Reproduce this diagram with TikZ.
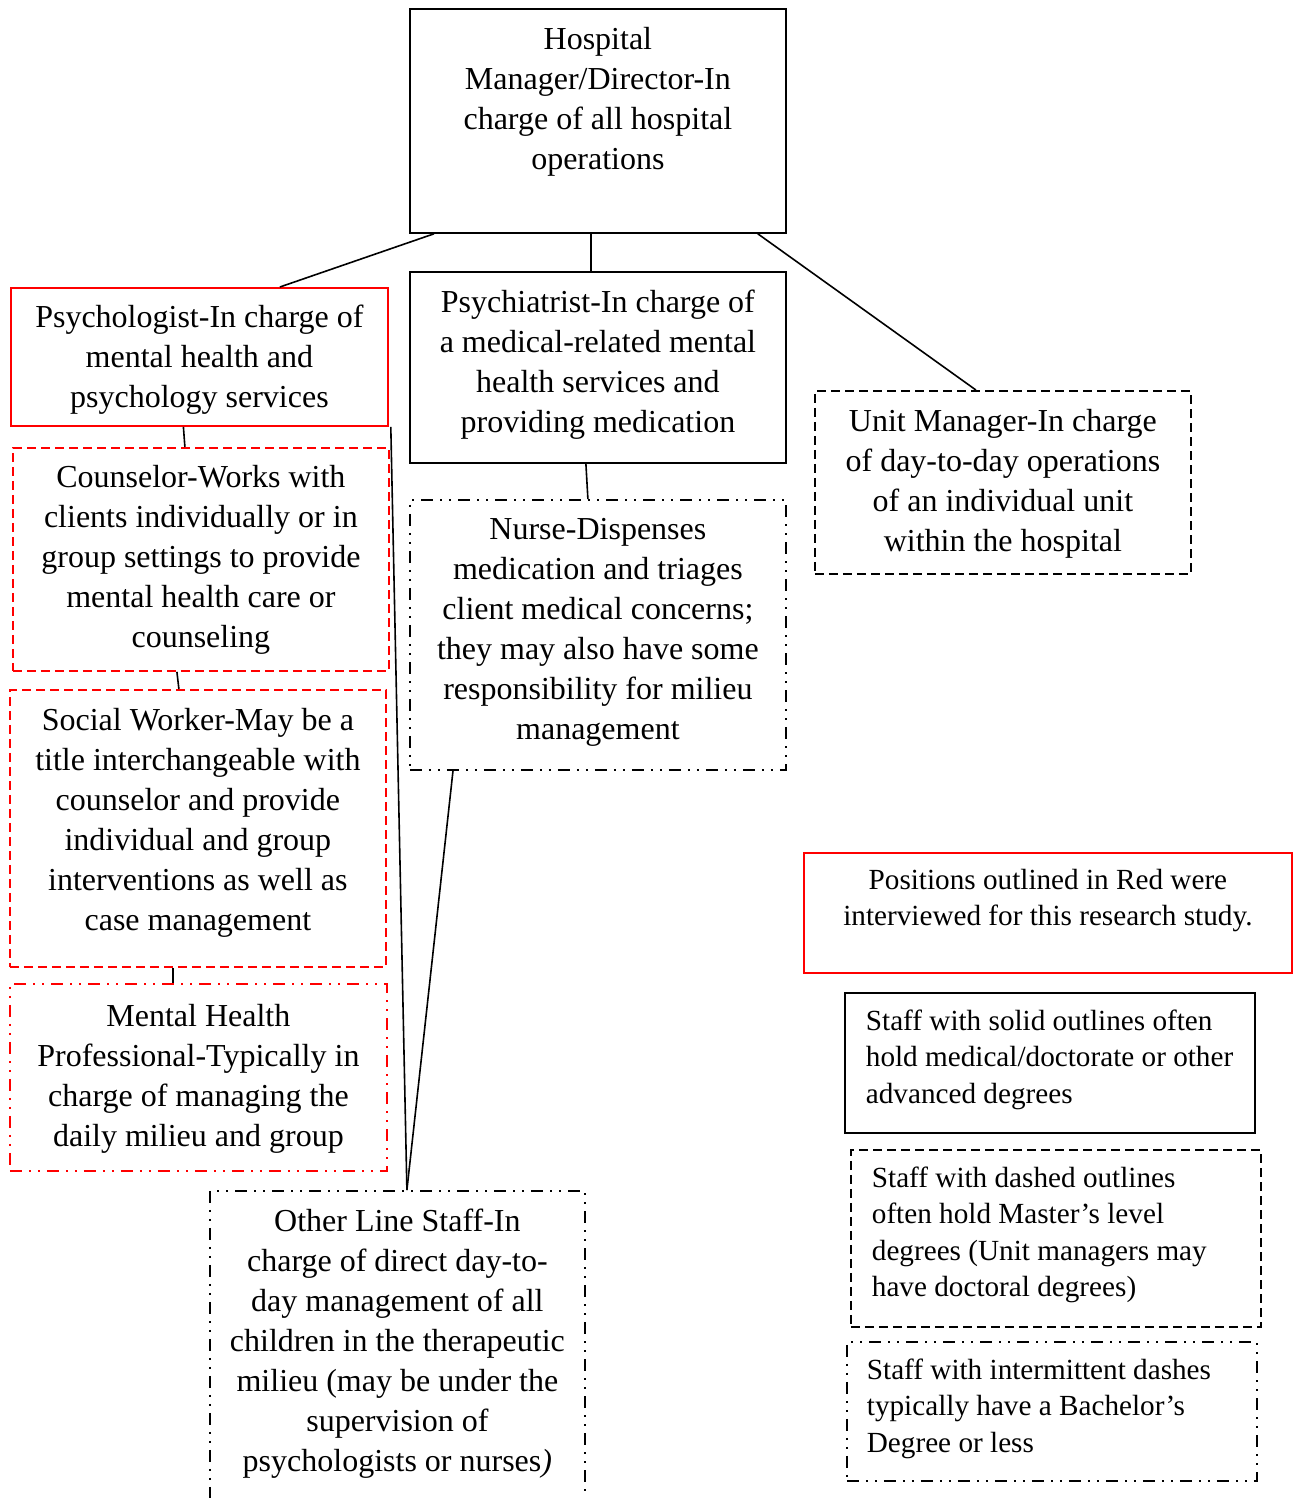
\documentclass[tikz,border=0pt]{standalone}
\usepackage{fontspec}
\setmainfont{Liberation Serif}
\usepackage{tikz}
\usetikzlibrary{positioning,calc}
\definecolor{myred}{RGB}{255,0,0}
\tikzset{
    dashdotdot/.style={dash pattern=on 6pt off 3.5pt on 1pt off 3.5pt on 1pt off 3.5pt},
    shortdash/.style={dash pattern=on 4.5pt off 2.5pt}
}

\begin{document}
\begin{tikzpicture}[
      x=1pt, y=-1pt,
      line width=0.9pt,
  frame/.style 2 args={
    draw,
    rectangle,
    anchor=north west,
    inner sep=0pt,
    minimum width=#1,
    minimum height=#2
    },
  txt/.style={
    align=center,
    inner sep=0pt,
    font=\fontsize{16}{20}\selectfont
    },
  legtxt/.style={
    inner sep=0pt,
    font=\fontsize{14.6}{18.25}\selectfont
    },
  link/.style={line width=0.8pt}
      ]
\useasboundingbox (0,0) rectangle (649,749);

% boxes of the chart
\node[frame={188pt}{112pt}] (hosp) at (204.5,4) {};
\node[frame={188.5pt}{69pt}, myred] (psych) at (5,143.5) {};
\node[frame={188pt}{95.5pt}] (psychiatr) at (204.5,135.5) {};
\node[frame={188pt}{91.5pt}, shortdash] (unit) at (407,195) {};
\node[frame={188pt}{111.5pt}, myred, shortdash] (couns) at (6,223.5) {};
\node[frame={188pt}{135pt}, dashdotdot] (nurse) at (204.5,249.5) {};
\node[frame={188pt}{138.5pt}, myred, shortdash] (social) at (4.5,344.5) {};
\node[frame={188.5pt}{93.5pt}, myred, dashdotdot] (mhp) at (4.5,491.5) {};
\node[frame={187.5pt}{180pt}, dashdotdot] (other) at (104.5,595) {};

\node[txt, below=9pt of hosp.north] (hospt)
  {Hospital\\ Manager/Director-In\\ charge of all hospital\\ operations};
\node[txt, below=8.5pt of psych.north] (psycht)
  {Psychologist-In charge of\\ mental health and\\ psychology services};
\node[txt, below=9pt of psychiatr.north] (psychiatrt)
  {Psychiatrist-In charge of\\ a medical-related mental\\ health services and\\ providing medication};
\node[txt, below=9pt of unit.north] (unitt)
  {Unit Manager-In charge\\ of day-to-day operations\\ of an individual unit\\ within the hospital};
\node[txt, below=8.5pt of couns.north] (counst)
  {Counselor-Works with\\ clients individually or in\\ group settings to provide\\ mental health care or\\ counseling};
\node[txt, below=9pt of nurse.north] (nurset)
  {Nurse-Dispenses\\ medication and triages\\ client medical concerns;\\ they may also have some\\ responsibility for milieu\\ management};
\node[txt, below=9pt of social.north] (socialt)
  {Social Worker-May be a\\ title interchangeable with\\ counselor and provide\\ individual and group\\ interventions as well as\\ case management};
\node[txt, below=10pt of mhp.north] (mhpt)
  {Mental Health\\ Professional-Typically in\\ charge of managing the\\ daily milieu and group};
\node[txt, below=9pt of other.north] (othert)
  {Other Line Staff-In\\ charge of direct day-to-\\ day management of all\\ children in the therapeutic\\ milieu (may be under the\\ supervision of\\ psychologists or nurses\textit{)}};

% legend
\node[frame={244pt}{60pt}, myred] (legred) at (401.5,426) {};
\node[frame={205pt}{70pt}, line width=1.1pt] (legsolid) at (422,496) {};
\node[frame={205pt}{88.5pt}, shortdash] (legdash) at (425,574.5) {};
\node[frame={205pt}{69.5pt}, dashdotdot] (legint) at (423,670.5) {};

\node[legtxt, align=center, below=8pt of legred.north] (legredt)
  {Positions outlined in Red were\\ interviewed for this research study.};
\node[legtxt, align=left, anchor=north west] (legsolidt) at ([xshift=10.5pt,yshift=-8.5pt]legsolid.north west)
  {Staff with solid outlines often\\ hold medical/doctorate or other\\ advanced degrees};
\node[legtxt, align=left, anchor=north west] (legdasht) at ([xshift=10.5pt,yshift=-8.5pt]legdash.north west)
  {Staff with dashed outlines\\ often hold Master’s level\\ degrees (Unit managers may\\ have doctoral degrees)};
\node[legtxt, align=left, anchor=north west] (leginttt) at ([xshift=10pt,yshift=-8.5pt]legint.north west)
  {Staff with intermittent dashes\\ typically have a Bachelor’s\\ Degree or less};

% connectors
\draw[link] ([xshift=12.5pt]hosp.south west) -- ([xshift=40.25pt]psych.north);
\draw[link] ([xshift=-3.5pt]hosp.south) -- ([xshift=-3.5pt]psychiatr.north);
\draw[link] ([xshift=-14.5pt]hosp.south east) -- ([xshift=-13.5pt]unit.north);
\draw[link] ([xshift=-8pt]psych.south) -- ([xshift=-8pt]couns.north);
\draw[link] ([xshift=-12pt]couns.south) -- ([xshift=-9.5pt]social.north);
\draw[link] ([xshift=-12.5pt]social.south) -- ([xshift=-12.75pt]mhp.north);
\draw[link] ([xshift=-6pt]psychiatr.south) -- ([xshift=-5pt]nurse.north);
\draw[link] ([xshift=1pt]psych.south east) -- ([xshift=4.75pt]other.north);
\draw[link] ([xshift=22pt]nurse.south west) -- ([xshift=4.75pt]other.north);

\end{tikzpicture}
\end{document}
